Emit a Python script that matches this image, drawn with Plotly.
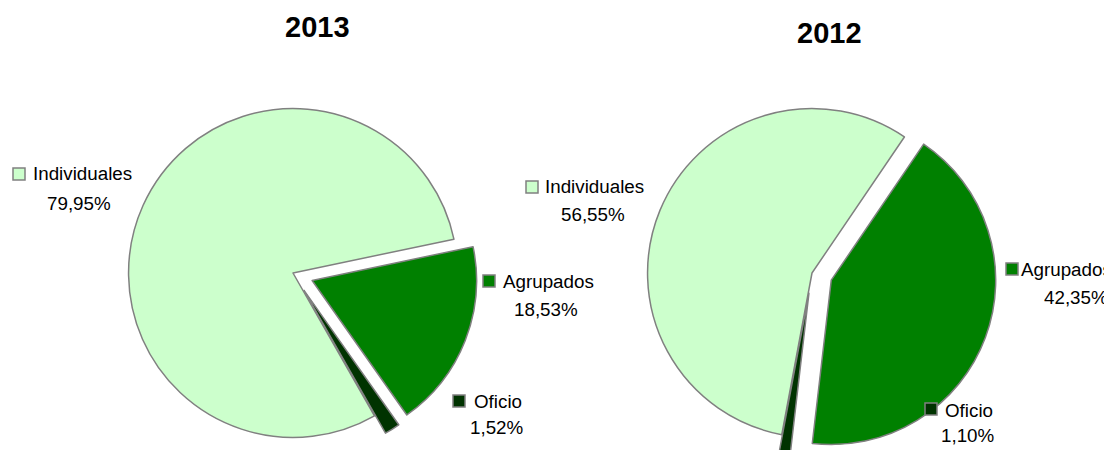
import plotly.graph_objects as go

categories = ["Individuales", "Agrupados", "Oficio"]
values_2013 = [79.95, 18.53, 1.52]
values_2012 = [56.55, 42.35, 1.10]
years = ["2013", "2012"]

W, H = 1112, 450
PAGE_OFFSET = 8  # default body margin of the page holding the figure
colors = ["#CCFFCC", "#008000", "#003300"]
FONT = "Liberation Sans, Arial, sans-serif"
LABEL_SIZE = 18.8


def px_x(x):
    # x in window pixels -> paper fraction
    return (x - PAGE_OFFSET) / W


def px_y(y):
    return 1 - (y - PAGE_OFFSET) / H


def fmt(v):
    return f"{v:.2f}".replace(".", ",") + "%"


# layout per pie (window pixels): centre, half-box, pull, rotation
pies = [
    dict(values=values_2013, cx=293, cy=273, half=185, pull=0.125, rot=150.3,
         title=(317, 27),
         name_pos=[(31, 174), (501, 281), (472, 401)],
         pct_pos=[(79, 203), (546, 309), (497, 427)],
         key_pos=[(19, 174), (489, 281), (459, 401)]),
    dict(values=values_2012, cx=812, cy=273, half=185, pull=0.125, rot=190.6,
         title=(829, 33),
         name_pos=[(543, 186), (1019, 269), (943, 410)],
         pct_pos=[(593, 214), (1076, 297), (968, 435)],
         key_pos=[(532, 187), (1012, 269), (931, 409)]),
]

fig = go.Figure()
annotations = []
shapes = []
for year, p in zip(years, pies):
    x0 = px_x(p["cx"] - p["half"])
    x1 = px_x(p["cx"] + p["half"])
    ytop = p["cy"] - p["half"]
    ybot = p["cy"] + p["half"]
    fig.add_trace(go.Pie(
        labels=categories,
        values=p["values"],
        sort=False,
        direction="clockwise",
        rotation=p["rot"],
        pull=[0, p["pull"], p["pull"]],
        marker=dict(colors=colors, line=dict(color="#808080", width=1.5)),
        textinfo="none",
        hoverinfo="label+percent",
        showlegend=False,
        domain=dict(x=[x0, x1], y=[max(0, px_y(ybot)), px_y(ytop)]),
    ))
    tx, ty = p["title"]
    annotations.append(dict(
        text=year, x=px_x(tx), y=px_y(ty), xref="paper", yref="paper",
        xanchor="center", yanchor="middle", showarrow=False,
        font=dict(family=FONT, size=29, color="#000000", weight="bold"),
    ))
    for cat, v, col, (nx, ny), (qx, qy), (kx, ky) in zip(
            categories, p["values"], colors, p["name_pos"], p["pct_pos"], p["key_pos"]):
        annotations.append(dict(
            text=cat, x=px_x(nx), y=px_y(ny), xref="paper", yref="paper",
            xanchor="left", yanchor="middle", showarrow=False,
            font=dict(family=FONT, size=LABEL_SIZE, color="#000000"),
        ))
        annotations.append(dict(
            text=fmt(v), x=px_x(qx), y=px_y(qy), xref="paper", yref="paper",
            xanchor="center", yanchor="middle", showarrow=False,
            font=dict(family=FONT, size=LABEL_SIZE, color="#000000"),
        ))
        shapes.append(dict(
            type="rect", xref="paper", yref="paper",
            x0=px_x(kx - 6), x1=px_x(kx + 6), y0=px_y(ky + 6), y1=px_y(ky - 6),
            fillcolor=col, line=dict(color="#808080", width=1.5),
        ))

fig.update_layout(
    width=W, height=H,
    margin=dict(l=0, r=0, t=0, b=0),
    paper_bgcolor="#FFFFFF",
    plot_bgcolor="#FFFFFF",
    annotations=annotations,
    shapes=shapes,
)

fig.write_html("out.html")
